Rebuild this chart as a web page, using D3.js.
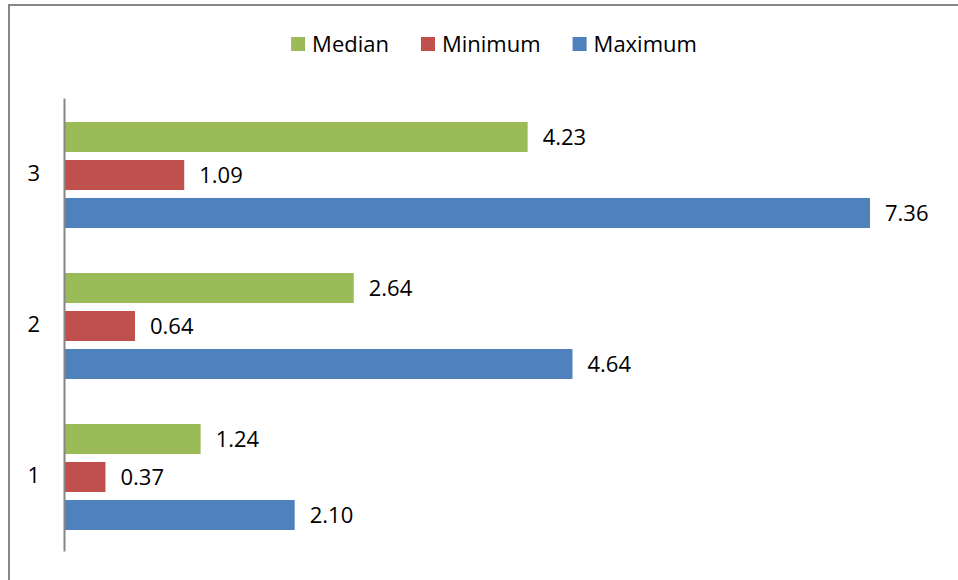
<!DOCTYPE html>
<html lang="en">
<head>
  <meta charset="UTF-8" />
  <title>Median / Minimum / Maximum</title>
  <script src="https://d3js.org/d3.v7.min.js"></script>
  <style>
    body {
      margin: 0;
      background: #ffffff;
      font-family: 'Open Sans', sans-serif;
    }
    svg { display: block; }
  </style>
</head>
<body>
  <svg width="958" height="580"></svg>

  <script>
    // data
    const categories = ["1", "2", "3"];
    const seriesNames = ["Median", "Minimum", "Maximum"];
    const median = [1.24, 2.64, 4.23];
    const minimum = [0.37, 0.64, 1.09];
    const maximum = [2.10, 4.64, 7.36];
    const seriesColors = ["#9bbb59", "#c0504d", "#4f81bd"];

    const values = [median, minimum, maximum];
    const font = "'Open Sans', sans-serif";

    const svg = d3.select("svg");

    // chart frame (runs off the right and bottom of the picture)
    svg.append("rect")
      .attr("x", 9).attr("y", 5)
      .attr("width", 980).attr("height", 600)
      .attr("fill", "none")
      .attr("stroke", "#868686")
      .attr("stroke-width", 2);

    const x = d3.scaleLinear().domain([0, 8]).range([65, 940]);
    // categories go bottom to top
    const y = d3.scaleBand().domain(categories.slice().reverse()).range([98, 551]);
    const inner = d3.scaleBand().domain(seriesNames).range([24, 130]).paddingInner(0.21);

    const rows = [];
    categories.forEach((c, i) => {
      seriesNames.forEach((s, j) => {
        rows.push({ cat: c, series: s, value: values[j][i], color: seriesColors[j] });
      });
    });

    const bars = svg.append("g");
    bars.selectAll("rect")
      .data(rows)
      .join("rect")
      .attr("x", x(0))
      .attr("y", d => y(d.cat) + inner(d.series))
      .attr("width", d => x(d.value) - x(0))
      .attr("height", inner.bandwidth())
      .attr("fill", d => d.color);

    bars.selectAll("text")
      .data(rows)
      .join("text")
      .attr("x", d => x(d.value) + 15)
      .attr("y", d => y(d.cat) + inner(d.series) + inner.bandwidth() / 2)
      .attr("dy", "0.36em")
      .attr("font-family", font)
      .attr("font-size", 22)
      .attr("fill", "#000")
      .text(d => d.value.toFixed(2));

    // category axis
    const yAxis = svg.append("g")
      .attr("transform", `translate(${x(0) - 1},0)`)
      .call(d3.axisLeft(y).tickSize(0).tickPadding(24));
    yAxis.select(".domain").attr("stroke", "#868686").attr("stroke-width", 2);
    yAxis.selectAll("text")
      .attr("font-family", font)
      .attr("font-size", 22)
      .attr("fill", "#000");

    // legend, centred above the plot
    const legend = svg.append("g");
    const items = legend.selectAll("g")
      .data(seriesNames)
      .join("g");
    items.append("rect")
      .attr("width", 14).attr("height", 14)
      .attr("y", -7)
      .attr("fill", (d, i) => seriesColors[i]);
    items.append("text")
      .attr("x", 21)
      .attr("dy", "0.36em")
      .attr("font-family", font)
      .attr("font-size", 22)
      .attr("fill", "#000")
      .text(d => d);

    let cx = 0;
    items.each(function () {
      const w = 21 + this.querySelector("text").getComputedTextLength();
      d3.select(this).attr("transform", `translate(${cx},0)`);
      cx += w + 32;
    });
    const totalW = cx - 32;
    legend.attr("transform", `translate(${494 - totalW / 2},44)`);
  </script>
</body>
</html>
